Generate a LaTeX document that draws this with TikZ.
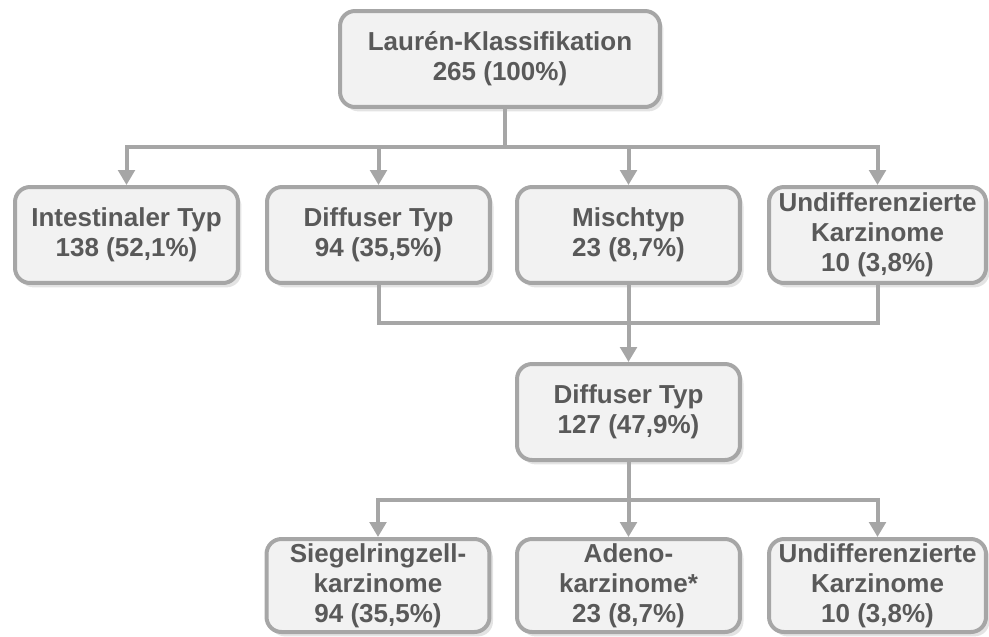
\documentclass[tikz,border=0pt]{standalone}
\usepackage{fontspec}
\setmainfont{Liberation Sans}
\usepackage{xcolor}
\usetikzlibrary{arrows.meta,shadows}
\definecolor{edgegray}{HTML}{A6A6A6}
\definecolor{boxfill}{HTML}{F2F2F2}
\definecolor{textgray}{HTML}{595959}
\begin{document}
\begin{tikzpicture}[x=0.02cm,y=-0.02cm,
  box/.style={draw=edgegray,line width=0.08cm,fill=boxfill,rounded corners=0.3cm,
    minimum width=4.46cm,minimum height=1.92cm,inner sep=0pt,align=center,
    text=textgray,font=\fontsize{14.8}{17}\selectfont\bfseries,
    drop shadow={opacity=.22,shadow xshift=2pt,shadow yshift=-2.5pt}},
  link/.style={draw=edgegray,line width=0.08cm},
  arr/.style={link,-{Triangle[width=0.33cm,length=0.3cm]}}]
\useasboundingbox (0,0) rectangle (989,636);
\node[box,minimum width=6.4cm] (lauren) at (500,59) {Laurén-Klassifikation\\265 (100\%)};
\node[box] (intest) at (126.5,235) {Intestinaler Typ\\138 (52,1\%)};
\node[box] (diff) at (378.5,235) {Diffuser Typ\\94 (35,5\%)};
\node[box] (misch) at (628.5,235) {Mischtyp\\23 (8,7\%)};
\node[box,minimum width=4.34cm] (undiff) at (877.5,235) {Undifferenzierte\\Karzinome\\10 (3,8\%)};
\node[box] (diffall) at (628.5,412) {Diffuser Typ\\127 (47,9\%)};
\node[box,minimum height=1.86cm] (siegel) at (378,585.5) {Siegelringzell-\\karzinome\\94 (35,5\%)};
\node[box,minimum height=1.86cm] (adeno) at (628.5,585.5) {Adeno-\\karzinome*\\23 (8,7\%)};
\node[box,minimum width=4.34cm,minimum height=1.86cm] (undiffb) at (877.5,585.5) {Undifferenzierte\\Karzinome\\10 (3,8\%)};
\coordinate (split) at (505,147);
\coordinate (merge) at (628.5,323);
\coordinate (splitb) at (628.5,500);
\draw[link] (lauren.south -| split) -- (split);
\draw[arr] (split) -| (intest.north);
\draw[arr] (split) -| (diff.north);
\draw[arr] (split) -| (misch.north);
\draw[arr] (split) -| (undiff.north);
\draw[link] (diff.south) |- (merge) -| (undiff.south);
\draw[arr] (misch.south) -- (diffall.north);
\draw[link] (diffall.south) -- (splitb);
\draw[arr] (splitb) -| (siegel.north);
\draw[arr] (splitb) -- (adeno.north);
\draw[arr] (splitb) -| (undiffb.north);
\end{tikzpicture}
\end{document}
